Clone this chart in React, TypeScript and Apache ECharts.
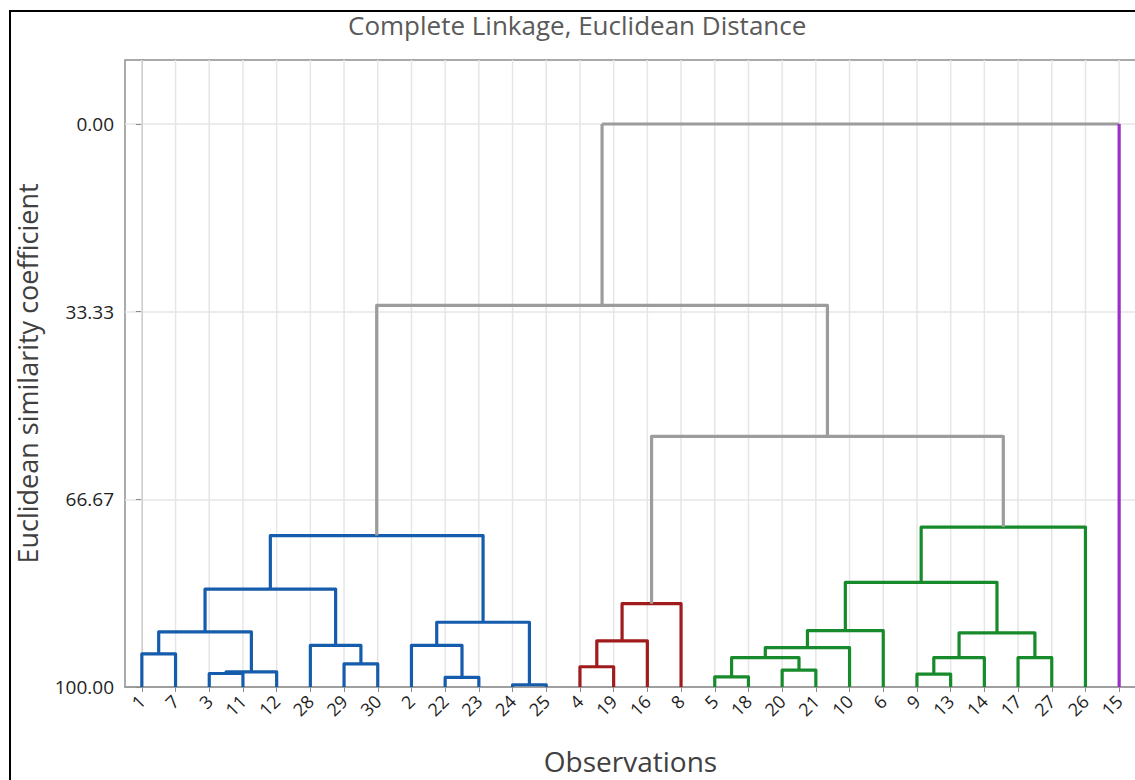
import React, { useEffect, useRef } from 'react';
import * as echarts from 'echarts';

// Leaf order along the x axis (observation numbers)
const observations = ['1', '7', '3', '11', '12', '28', '29', '30', '2', '22', '23', '24', '25', '4', '19', '16', '8', '5', '18', '20', '21', '10', '6', '9', '13', '14', '17', '27', '26', '15'];
// Final cluster of each leaf (same order as observations)
const leafCluster = ['blue', 'blue', 'blue', 'blue', 'blue', 'blue', 'blue', 'blue', 'blue', 'blue', 'blue', 'blue', 'blue', 'red', 'red', 'red', 'red', 'green', 'green', 'green', 'green', 'green', 'green', 'green', 'green', 'green', 'green', 'green', 'green', 'purple'];

// Linkage steps: new node name, left member, right member, similarity level
const mergeNames = ['a', 'b', 'c', 'd', 'e', 'f', 'g', 'h', 'i', 'j', 'k', 'l', 'm', 'n', 'o', 'p', 'q', 'r', 's', 't', 'u', 'v', 'w', 'x', 'y', 'z', 'A', 'B', 'C'];
const mergeLeft = ['1', '3', 'b', 'a', '29', '28', 'd', '22', '2', '24', 'i', 'g', '4', 'm', 'n', '5', '20', 'p', 'r', 's', '9', 'u', '17', 'v', 't', 'y', 'o', 'l', 'B'];
const mergeRight = ['7', '11', '12', 'c', '30', 'e', 'f', '23', 'h', '25', 'j', 'k', '19', '16', '8', '18', '21', 'q', '10', '6', '13', '14', '27', 'w', 'x', '26', 'z', 'A', '15'];
const mergeSimilarity = [94.1, 97.6, 97.3, 90.2, 95.9, 92.6, 82.6, 98.3, 92.6, 99.6, 88.5, 73.1, 96.4, 91.8, 85.2, 98.2, 97.0, 94.8, 93.0, 90.0, 97.7, 94.8, 94.8, 90.4, 81.4, 71.6, 55.5, 32.2, 0.0];

// y-axis tick labels (similarity), bottom to top
const similarityTicks = [100, 66.67, 33.33, 0];
const similarityTop = -11.37; // similarity value at the top edge of the plot

const clusterColors: Record<string, string> = {
  blue: '#165cad',
  red: '#a01b1b',
  green: '#178a2b',
  purple: '#9a2fca',
  grey: '#9c9c9c',
};

const FONT = '"Open Sans", "Noto Sans", sans-serif';

type Node = { x: number; d: number; cluster: string; leaf: boolean };

function buildOption() {
  const nodes: Record<string, Node> = {};
  observations.forEach((o, i) => {
    nodes[o] = { x: i, d: 0, cluster: leafCluster[i], leaf: true };
  });
  const links: { value: number[] }[] = [];
  const linkColors: { l: string; h: string; r: string }[] = [];
  mergeNames.forEach((name, k) => {
    const L = nodes[mergeLeft[k]];
    const R = nodes[mergeRight[k]];
    const d = 100 - mergeSimilarity[k];
    const cluster = L.cluster === R.cluster && L.cluster !== 'grey' ? L.cluster : 'grey';
    nodes[name] = { x: (L.x + R.x) / 2, d, cluster, leaf: false };
    links.push({ value: [L.x, L.d, R.x, R.d, d] });
    linkColors.push({
      l: clusterColors[L.leaf ? L.cluster : cluster],
      h: clusterColors[cluster],
      r: clusterColors[R.leaf ? R.cluster : cluster],
    });
  });

  const yMax = 100 - similarityTop;
  const tickDistances = similarityTicks.map((s) => 100 - s);

  return {
    animation: false,
    backgroundColor: '#ffffff',
    title: {
      text: 'Complete Linkage, Euclidean Distance',
      left: 343,
      top: 7,
      textStyle: { fontFamily: FONT, fontSize: 26, fontWeight: 'normal', color: '#5a5a5a' },
    },
    grid: {
      left: 125,
      top: 60,
      right: -1,
      bottom: 93,
      show: true,
      borderColor: '#8f8f8f',
      borderWidth: 1.5,
      containLabel: false,
      outerBoundsMode: 'none',
    },
    xAxis: [
      {
        type: 'category',
        data: observations,
        boundaryGap: true,
        axisLine: { show: true, lineStyle: { color: '#8c8c8c', width: 1.5 } },
        axisTick: { show: true, alignWithLabel: true, length: 5, lineStyle: { color: '#8c8c8c' } },
        axisLabel: { interval: 0, rotate: 45, fontFamily: FONT, fontSize: 18, color: '#1e1e1e', margin: 11 },
        splitLine: { show: false },
        name: 'Observations',
        nameLocation: 'middle',
        nameGap: 60,
        nameTextStyle: { fontFamily: FONT, fontSize: 28, color: '#404040' },
      },
      { type: 'value', min: -0.5, max: observations.length - 0.5, show: false },
    ],
    yAxis: {
      type: 'value',
      min: 0,
      max: yMax,
      interval: 100 / 3,
      axisLine: { show: true, lineStyle: { color: '#8c8c8c', width: 1.5 } },
      axisTick: { show: true, length: 6, lineStyle: { color: '#8c8c8c' }, customValues: tickDistances },
      axisLabel: {
        customValues: tickDistances,
        fontFamily: FONT,
        fontSize: 19,
        color: '#1e1e1e',
        margin: 11,
        formatter: (v: number) => (v > 100.01 ? '' : (100 - v).toFixed(2)),
      },
      splitLine: { show: true, lineStyle: { color: '#e6e6e6', width: 1.5 } },
      name: 'Euclidean similarity coefficient',
      nameLocation: 'middle',
      nameGap: 84,
      nameTextStyle: { fontFamily: FONT, fontSize: 27, color: '#404040' },
    },
    graphic: [
      {
        type: 'rect',
        shape: { x: 10, y: 11, width: 2000, height: 2000 },
        style: { fill: 'none', stroke: '#000000', lineWidth: 2 },
        silent: true,
      },
    ],
    series: [
      {
        type: 'custom',
        xAxisIndex: 1,
        yAxisIndex: 0,
        silent: true,
        z: 1,
        data: observations.map((_, i) => [i]),
        renderItem: (params: any, api: any) => {
          const i = api.value(0);
          const p1 = api.coord([i, 0]);
          const p2 = api.coord([i, yMax]);
          return {
            type: 'line',
            shape: { x1: p1[0], y1: p1[1], x2: p2[0], y2: p2[1] },
            style: { stroke: '#e6e6e6', lineWidth: 1.5 },
          };
        },
      },
      {
        type: 'custom',
        xAxisIndex: 1,
        yAxisIndex: 0,
        silent: true,
        z: 3,
        data: links,
        renderItem: (params: any, api: any) => {
          const xl = api.value(0);
          const dl = api.value(1);
          const xr = api.value(2);
          const dr = api.value(3);
          const h = api.value(4);
          const lb = api.coord([xl, dl]);
          const lt = api.coord([xl, h]);
          const rt = api.coord([xr, h]);
          const rb = api.coord([xr, dr]);
          const c = linkColors[params.dataIndex];
          const style = (col: string) => ({ stroke: col, lineWidth: 3.2, fill: 'none', lineJoin: 'round', lineCap: 'butt' });
          const children: any[] = [];
          if (c.l === c.h && c.h === c.r) {
            children.push({ type: 'polyline', shape: { points: [lb, lt, rt, rb] }, style: style(c.h) });
          } else {
            children.push({ type: 'polyline', shape: { points: [lb, lt] }, style: style(c.l) });
            children.push({ type: 'polyline', shape: { points: [lt, rt] }, style: style(c.h) });
            children.push({ type: 'polyline', shape: { points: [rt, rb] }, style: style(c.r) });
          }
          return { type: 'group', children };
        },
      },
    ],
  };
}

export default function App() {
  const ref = useRef<HTMLDivElement>(null);
  useEffect(() => {
    if (!ref.current) return;
    const chart = echarts.init(ref.current, null, { renderer: 'svg' });
    chart.setOption(buildOption() as any);
    return () => chart.dispose();
  }, []);
  return (
    <div
      ref={ref}
      style={{ position: 'fixed', left: 0, top: 0, width: 1135, height: 780, background: '#ffffff' }}
    />
  );
}
